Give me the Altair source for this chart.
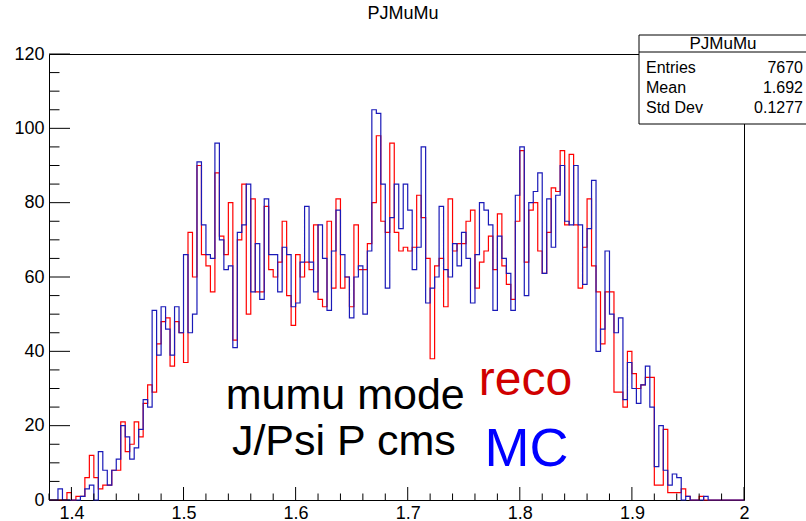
import altair as alt
import pandas as pd

# ---------------- data ----------------
x_lo = 1.38
x_hi = 2.0
n_bins = 155

reco = [0, 0, 0, 0, 2, 0, 1, 1, 6, 12, 6, 3, 4, 4, 8, 8, 21,
        13, 15, 21, 17, 26, 31, 29, 42, 48, 49, 36, 48, 45, 37, 72, 60, 90,
        66, 63, 56, 88, 71, 66, 80, 43, 70, 85, 50,
        81, 56, 56, 79, 62, 60, 64, 75, 55,
        47, 66, 60, 64, 62, 74, 54, 52, 75, 57, 81, 57, 60, 52, 74, 62, 62, 69, 80, 98, 75, 72, 96, 72, 67, 68,
        67, 68, 82, 76, 65, 38, 63, 65, 52, 81, 67, 69, 69, 75, 78, 57, 64, 67, 71, 62, 77, 63, 58, 54, 75, 94,
        64, 78, 80, 67, 61, 72, 84, 83, 94, 74, 93, 74, 57, 68, 81, 63,
        56, 42, 56, 56, 29, 29, 25, 40, 34, 30, 31, 33,
        33, 4, 4, 19, 2, 2, 2, 3, 1, 0, 0, 1, 0, 0, 0, 0, 0, 0, 0, 0, 0]

mc = [0, 0, 3, 0, 0, 0, 0, 1, 3, 4, 0, 13, 8, 4, 8, 11, 20,
      17, 11, 14, 19, 27, 25, 51, 39, 52, 46, 39, 52, 45, 66, 45, 50, 91,
      74, 66, 65, 96, 70, 62, 63, 41, 72, 74, 85,
      56, 69, 54, 81, 66, 66, 56, 68, 66,
      52, 53, 64, 79, 64, 56, 74, 65, 51, 67, 78, 66, 60, 49, 60, 63, 50, 67, 105, 104, 85, 57, 76, 85, 73, 85,
      78, 62, 68, 95, 53, 57, 60, 79, 62, 60, 69, 63, 72, 65, 53, 66, 80, 78, 74, 51, 71, 65, 61, 51, 82, 95,
      55, 80, 83, 88, 61, 81, 68, 82, 90, 75, 74, 90, 74, 58, 73, 86,
      40, 46, 67, 50, 45, 49, 27, 37, 30, 26, 31, 36,
      25, 9, 20, 8, 4, 7, 6, 0, 1, 0, 0, 0, 1, 0, 0, 0, 0, 0, 0, 0, 0]

x_major = [1.4, 1.5, 1.6, 1.7, 1.8, 1.9, 2.0]
x_minor = [1.38, 1.42, 1.44, 1.46, 1.48, 1.52, 1.54, 1.56, 1.58, 1.62, 1.64, 1.66, 1.68,
           1.72, 1.74, 1.76, 1.78, 1.82, 1.84, 1.86, 1.88, 1.92, 1.94, 1.96, 1.98]
y_major = [0, 20, 40, 60, 80, 100, 120]
y_minor = [5, 10, 15, 25, 30, 35, 45, 50, 55, 65, 70, 75, 85, 90, 95, 105, 110, 115]

hist_title = "PJMuMu"
stat_names = ["Entries", "Mean", "Std Dev"]
stat_values = ["7670", "1.692", "0.1277"]

ann_black = ["mumu mode", "J/Psi P cms"]
ann_black_x = [1.6443, 1.643]
ann_black_y = [24.5, 12.0]
ann_reco = "reco"
ann_reco_xy = (1.805, 28.3)
ann_mc = "MC"
ann_mc_xy = (1.806, 9.2)

# ---------------- layout ----------------
W, H = 695, 446
FONT = "Liberation Sans"

xs = alt.Scale(domain=[x_lo, x_hi], nice=False, zero=False)
ys = alt.Scale(domain=[0, 120], nice=False, zero=True)

bw = (x_hi - x_lo) / n_bins


def steps(vals, name):
    xv = [x_lo + i * bw for i in range(n_bins)] + [x_hi]
    yv = list(vals) + [vals[-1]]
    return pd.DataFrame({"x": xv, "count": yv, "series": name})


x_axis = alt.Axis(values=x_major, format=".1~f", ticks=False, domain=False, grid=False,
                  title=None, labelFont=FONT, labelFontSize=18, labelColor="black",
                  labelPadding=4, labelFlush=False, labelOverlap=False)
y_axis = alt.Axis(values=y_major, ticks=False, domain=False, grid=False, title=None,
                  labelFont=FONT, labelFontSize=18, labelColor="black", labelPadding=5,
                  labelFlush=False, labelOverlap=False)


def X(field):
    return alt.X(field, scale=xs, axis=x_axis)


def Y(field):
    return alt.Y(field, scale=ys, axis=y_axis)


red_line = alt.Chart(steps(reco, "reco")).mark_line(
    interpolate="step-after", color="#ff0000", strokeWidth=1.2
).encode(x=X("x:Q"), y=Y("count:Q"))

blue_line = alt.Chart(steps(mc, "MC")).mark_line(
    interpolate="step-after", color="#1a1ab8", strokeWidth=1.2
).encode(x=X("x:Q"), y=Y("count:Q"))

ytick_major = alt.Chart(pd.DataFrame({"v": y_major})).mark_rule(color="black", strokeWidth=1).encode(
    y=Y("v:Q"), x=alt.value(0), x2=alt.value(21))
ytick_minor = alt.Chart(pd.DataFrame({"v": y_minor})).mark_rule(color="black", strokeWidth=1).encode(
    y=Y("v:Q"), x=alt.value(0), x2=alt.value(10.5))
xtick_major = alt.Chart(pd.DataFrame({"v": x_major})).mark_rule(color="black", strokeWidth=1).encode(
    x=X("v:Q"), y=alt.value(H), y2=alt.value(H - 13))
xtick_minor = alt.Chart(pd.DataFrame({"v": x_minor})).mark_rule(color="black", strokeWidth=1).encode(
    x=X("v:Q"), y=alt.value(H), y2=alt.value(H - 6.5))

title_text = alt.Chart(pd.DataFrame({"t": [hist_title]})).mark_text(
    font=FONT, fontSize=18, color="black", align="center", baseline="middle"
).encode(text="t:N", x=alt.value(354), y=alt.value(-40))

# annotations in data coordinates
black_df = pd.DataFrame({"t": ann_black, "x": ann_black_x, "y": ann_black_y})
black_txt = alt.Chart(black_df).mark_text(
    font=FONT, fontSize=43, color="black", align="center", baseline="alphabetic"
).encode(text="t:N", x=X("x:Q"), y=Y("y:Q"))

reco_txt = alt.Chart(pd.DataFrame({"t": [ann_reco], "x": [ann_reco_xy[0]], "y": [ann_reco_xy[1]]})).mark_text(
    font=FONT, fontSize=48, color="#d00000", align="center", baseline="alphabetic"
).encode(text="t:N", x=X("x:Q"), y=Y("y:Q"))

mc_txt = alt.Chart(pd.DataFrame({"t": [ann_mc], "x": [ann_mc_xy[0]], "y": [ann_mc_xy[1]]})).mark_text(
    font=FONT, fontSize=54, color="#0000ff", align="center", baseline="alphabetic"
).encode(text="t:N", x=X("x:Q"), y=Y("y:Q"))

# stat box
one = pd.DataFrame({"t": [hist_title]})
stat_rect = alt.Chart(one).mark_rect(fill="white", stroke="black", strokeWidth=1).encode(
    x=alt.value(590), x2=alt.value(760), y=alt.value(-19), y2=alt.value(70))
stat_div = alt.Chart(one).mark_rule(color="black", strokeWidth=1).encode(
    x=alt.value(590), x2=alt.value(760), y=alt.value(-2))
stat_title = alt.Chart(one).mark_text(font=FONT, fontSize=17, color="black", align="center",
                                      baseline="middle").encode(
    text="t:N", x=alt.value(674), y=alt.value(-10))

stat_layers = [stat_rect, stat_div, stat_title]
for i, (nm, vl) in enumerate(zip(stat_names, stat_values)):
    row = pd.DataFrame({"n": [nm], "v": [vl]})
    stat_layers.append(alt.Chart(row).mark_text(font=FONT, fontSize=16, color="black", align="left",
                                                baseline="middle").encode(
        text="n:N", x=alt.value(597), y=alt.value(14 + 20 * i)))
    stat_layers.append(alt.Chart(row).mark_text(font=FONT, fontSize=16, color="black", align="right",
                                                baseline="middle").encode(
        text="v:N", x=alt.value(754), y=alt.value(14 + 20 * i)))

chart = alt.layer(
    red_line, blue_line, ytick_major, ytick_minor, xtick_major, xtick_minor,
    black_txt, reco_txt, mc_txt, title_text, *stat_layers
).properties(
    width=W, height=H,
    padding={"left": 49, "top": 54, "right": 62, "bottom": 21},
    autosize=alt.AutoSizeParams(type="none"),
    background="white",
).configure_view(stroke="black", strokeWidth=1)

chart.save("out.html", embed_options={"renderer": "svg", "actions": False})
